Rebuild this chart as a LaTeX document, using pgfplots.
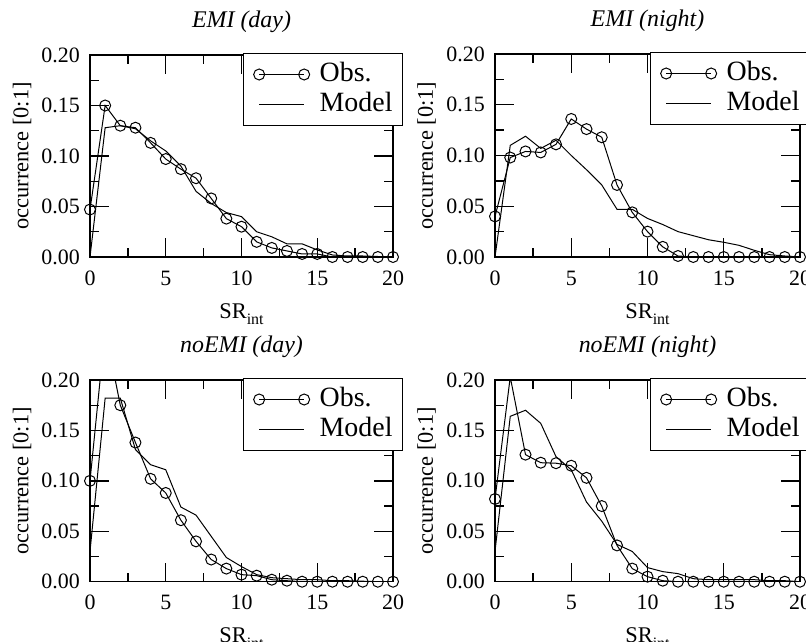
\documentclass[border=0pt]{standalone}
\usepackage{fontspec}
\setmainfont{Liberation Serif}
\usepackage{pgfplots}
\usepackage{pgfplotstable}
\pgfplotsset{compat=1.18}

% EMI (day)
\pgfplotstableread{
x y
0 0.047
1 0.150
2 0.130
3 0.128
4 0.113
5 0.097
6 0.087
7 0.078
8 0.058
9 0.038
10 0.030
11 0.015
12 0.009
13 0.006
14 0.003
15 0.003
16 0.000
17 0.000
18 0.000
19 0.000
20 0.000
}\obsA
\pgfplotstableread{
x y
0 0.000
1 0.128
2 0.130
3 0.127
4 0.115
5 0.105
6 0.090
7 0.065
8 0.053
9 0.044
10 0.040
11 0.025
12 0.020
13 0.013
14 0.013
15 0.007
16 0.002
17 0.001
18 0.001
19 0.0005
20 0.000
}\modA
% EMI (night)
\pgfplotstableread{
x y
0 0.040
1 0.098
2 0.104
3 0.103
4 0.111
5 0.136
6 0.126
7 0.118
8 0.071
9 0.044
10 0.025
11 0.010
12 0.001
13 0.000
14 0.000
15 0.000
16 0.000
17 0.000
18 0.000
19 0.000
20 0.000
}\obsB
\pgfplotstableread{
x y
0 0.000
1 0.110
2 0.119
3 0.107
4 0.115
5 0.100
6 0.086
7 0.071
8 0.047
9 0.047
10 0.038
11 0.032
12 0.025
13 0.021
14 0.017
15 0.0145
16 0.0115
17 0.0066
18 0.0023
19 0.001
20 0.000
}\modB
% noEMI (day)
\pgfplotstableread{
x y
0 0.100
1 0.250
2 0.175
3 0.138
4 0.102
5 0.088
6 0.061
7 0.040
8 0.022
9 0.013
10 0.007
11 0.006
12 0.002
13 0.001
14 0.000
15 0.000
16 0.000
17 0.000
18 0.000
19 0.000
20 0.000
}\obsC
\pgfplotstableread{
x y
0 0.030
1 0.182
2 0.182
3 0.131
4 0.116
5 0.111
6 0.074
7 0.066
8 0.045
9 0.024
10 0.015
11 0.007
12 0.004
13 0.003
14 0.002
15 0.002
16 0.001
17 0.001
18 0.0005
19 0.000
20 0.000
}\modC
% noEMI (night)
\pgfplotstableread{
x y
0 0.082
1 0.203
2 0.126
3 0.118
4 0.1175
5 0.115
6 0.103
7 0.075
8 0.036
9 0.013
10 0.005
11 0.001
12 0.000
13 0.000
14 0.000
15 0.000
16 0.000
17 0.000
18 0.000
19 0.000
20 0.000
}\obsD
\pgfplotstableread{
x y
0 0.030
1 0.164
2 0.170
3 0.157
4 0.124
5 0.111
6 0.079
7 0.060
8 0.037
9 0.030
10 0.014
11 0.010
12 0.008
13 0.003
14 0.002
15 0.002
16 0.002
17 0.002
18 0.001
19 0.001
20 0.000
}\modD

\pgfplotsset{
  panel/.style={
    scale only axis,
    xmin=0, xmax=20, ymin=0, ymax=0.2,
    xtick={0,5,10,15,20}, ytick={0,0.05,0.1,0.15,0.2},
    minor x tick num=1, minor y tick num=1,
    tick align=inside, major tick length=19bp, minor tick length=9bp,
    axis line style={line width=1.3bp},
    every tick/.style={black, line width=1.3bp},
    /pgf/number format/assume math mode=true,
    tick label style={font=\fontsize{22}{24}\selectfont},
    yticklabel style={/pgf/number format/.cd, fixed, fixed zerofill, precision=2, /tikz/.cd, anchor=east, inner sep=0pt, xshift=-10bp},
    xticklabel style={anchor=base, inner sep=0pt, yshift=-28bp},
    ylabel={occurrence [0:1]},
    xlabel={SR\raisebox{-6bp}{\fontsize{16}{16}\selectfont int}},
    label style={font=\fontsize{22.5}{24}\selectfont},
    ylabel style={at={(axis description cs:-0.2244,0.5)}, anchor=center},
    xlabel style={at={(axis description cs:0.5,0)}, anchor=base, yshift=-61bp},
    title style={font=\fontsize{24}{26}\selectfont\itshape, at={(axis description cs:0.5,1)}, anchor=base, yshift=22bp},
    legend cell align=left,
    legend image code/.code={\path (-5bp,0bp) (60bp,0bp);\draw[##1] plot coordinates {(0bp,0bp) (45bp,0bp)};},
    legend style={at={(axis description cs:1,1)}, anchor=north east, xshift=10bp, yshift=2bp,
      draw=black, line width=1bp, font=\fontsize{28}{30}\selectfont,
      inner xsep=10bp, inner ysep=9bp, row sep=6bp,
      nodes={inner sep=0pt, text height=19bp, text depth=5bp}},
  },
  obsline/.style={black, line width=1bp, forget plot},
  obsmark/.style={black, only marks, mark=o, mark size=5.5bp, mark options={line width=1bp}, restrict y to domain=0:0.2, forget plot},
  modline/.style={black, line width=1bp, forget plot},
}

\newcommand{\panelplots}[2]{%
  \addplot[obsline] table {#1};
  \addplot[obsmark] table {#1};
  \addplot[modline] table {#2};
  \addlegendimage{black, line width=1bp, mark=o, mark size=5.5bp}
  \addlegendentry{Obs.}
  \addlegendimage{black, line width=1bp}
  \addlegendentry{Model}
}

\begin{document}
\begin{tikzpicture}
\useasboundingbox (0,0) rectangle (806bp,-642bp);
\begin{axis}[panel, width=303bp, height=202bp, at={(90bp,-257bp)}, anchor=south west, title={EMI (day)}]
\panelplots{\obsA}{\modA}
\end{axis}
\begin{axis}[panel, width=305bp, height=203bp, at={(495bp,-257bp)}, anchor=south west, title={EMI (night)}]
\panelplots{\obsB}{\modB}
\end{axis}
\begin{axis}[panel, width=303bp, height=201.7bp, at={(90bp,-581.7bp)}, anchor=south west, title={noEMI (day)}]
\panelplots{\obsC}{\modC}
\end{axis}
\begin{axis}[panel, width=305bp, height=201.7bp, at={(495bp,-581.7bp)}, anchor=south west, title={noEMI (night)}]
\panelplots{\obsD}{\modD}
\end{axis}
\end{tikzpicture}
\end{document}
